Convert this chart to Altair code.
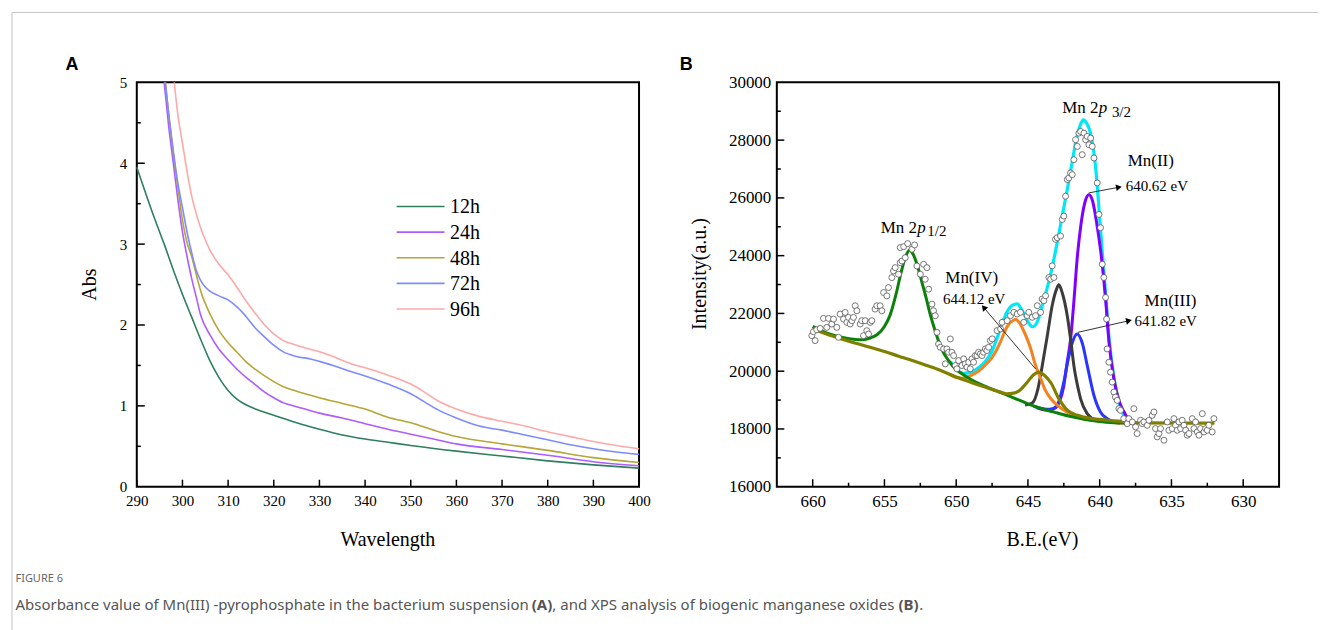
import altair as alt
import pandas as pd

SERIF = "Liberation Serif"
SANS = "Liberation Sans"

# ---------------- Panel A : absorbance spectra ----------------
SERIES = ["12h", "24h", "48h", "72h", "96h"]
COLORS_A = ["#2f7f5f", "#ac5cff", "#b5a637", "#7d8bff", "#ffa8a8"]

wl_12h = [290, 292, 294, 296, 298, 300, 302, 304, 306, 308, 310, 312, 314, 316, 318, 320, 325, 330, 335, 340, 345, 350, 360, 370, 380, 390, 400]
abs_12h = [3.95, 3.62, 3.30, 3.00, 2.68, 2.38, 2.10, 1.82, 1.56, 1.35, 1.19, 1.08, 1.01, 0.96, 0.92, 0.885, 0.79, 0.71, 0.64, 0.59, 0.55, 0.51, 0.44, 0.38, 0.32, 0.27, 0.23]

wl_24h = [296, 297, 298, 299, 300, 301, 302, 303, 304, 306, 308, 310, 312, 314, 316, 318, 320, 322, 325, 330, 335, 340, 345, 350, 355, 360, 370, 380, 390, 400]
abs_24h = [5.0, 4.45, 4.0, 3.55, 3.15, 2.85, 2.58, 2.35, 2.12, 1.88, 1.70, 1.57, 1.45, 1.35, 1.26, 1.17, 1.10, 1.04, 0.99, 0.91, 0.85, 0.78, 0.71, 0.65, 0.59, 0.53, 0.46, 0.39, 0.31, 0.26]

wl_48h = [296.3, 297, 298, 299, 300, 301, 302, 303, 304, 306, 308, 310, 312, 314, 316, 318, 320, 322, 325, 330, 335, 340, 345, 350, 355, 360, 370, 380, 390, 400]
abs_48h = [5.0, 4.6, 4.12, 3.7, 3.3, 3.02, 2.85, 2.63, 2.42, 2.14, 1.93, 1.78, 1.66, 1.54, 1.45, 1.37, 1.30, 1.24, 1.18, 1.10, 1.03, 0.96, 0.86, 0.79, 0.70, 0.62, 0.53, 0.45, 0.36, 0.30]

wl_72h = [296.2, 297, 298, 299, 300, 301, 302, 303, 304, 305, 306, 308, 310, 312, 314, 316, 318, 320, 322, 325, 328, 330, 333, 336, 340, 345, 350, 353, 356, 360, 365, 370, 375, 380, 385, 390, 395, 400]
abs_72h = [5.0, 4.6, 4.15, 3.75, 3.45, 3.15, 2.9, 2.68, 2.55, 2.47, 2.42, 2.36, 2.31, 2.22, 2.10, 1.96, 1.85, 1.75, 1.67, 1.61, 1.58, 1.55, 1.50, 1.44, 1.37, 1.27, 1.15, 1.05, 0.95, 0.85, 0.75, 0.70, 0.64, 0.58, 0.52, 0.47, 0.43, 0.40]

wl_96h = [298.2, 299, 300, 301, 302, 303, 304, 305, 306, 308, 310, 312, 314, 316, 318, 320, 322, 325, 328, 330, 333, 336, 340, 345, 350, 353, 356, 360, 365, 370, 375, 380, 385, 390, 395, 400]
abs_96h = [5.0, 4.6, 4.25, 3.9, 3.6, 3.38, 3.2, 3.05, 2.93, 2.75, 2.62, 2.46, 2.29, 2.14, 2.00, 1.89, 1.81, 1.75, 1.70, 1.67, 1.61, 1.54, 1.47, 1.38, 1.27, 1.17, 1.06, 0.96, 0.87, 0.81, 0.75, 0.68, 0.62, 0.56, 0.51, 0.47]

A_X_TICKS = [290, 300, 310, 320, 330, 340, 350, 360, 370, 380, 390, 400]
A_Y_LABELS = [0, 1, 2, 3, 4, 5]
A_Y_MAJOR = [1, 2, 3, 4]
A_Y_MINOR = [0.5, 1.5, 2.5, 3.5, 4.5]

# ---------------- Panel B : XPS Mn 2p ----------------
cyan_E = [650.4, 650.0, 649.5, 649.0, 648.5, 648.0, 647.5, 647.15, 646.8, 646.45, 646.1, 645.75, 645.4, 645.0, 644.7, 644.4, 643.9, 643.4, 642.96, 642.6, 642.26, 641.95, 641.68, 641.4, 641.15, 640.9, 640.64, 640.29, 640.0, 639.8, 639.59, 639.35, 639.0, 638.7, 638.3, 637.9, 637.5]
cyan_I = [20330, 20060, 19930, 19960, 20100, 20320, 20700, 21150, 21650, 22060, 22280, 22330, 22100, 21720, 21540, 21660, 22450, 23400, 24450, 25400, 26290, 27150, 27900, 28450, 28700, 28580, 28240, 27090, 25300, 24000, 22700, 21150, 19750, 19000, 18450, 18250, 18200]

green_E = [660.0, 659.5, 659.0, 658.0, 657.0, 656.5, 656.0, 655.5, 655.0, 654.6, 654.2, 653.8, 653.5, 653.25, 653.0, 652.7, 652.4, 652.1, 651.8, 651.5, 651.2, 650.9, 650.5, 650.2, 649.5, 649.0, 648.0, 647.0, 646.0, 645.0, 644.0, 643.0, 642.0, 641.0, 640.0, 639.0, 638.0, 637.5]
green_I = [21550, 21420, 21320, 21180, 21100, 21090, 21150, 21270, 21550, 21950, 22650, 23500, 24000, 24200, 24050, 23650, 23100, 22550, 21950, 21450, 21000, 20650, 20350, 20150, 19880, 19720, 19480, 19280, 19080, 18870, 18700, 18560, 18430, 18330, 18260, 18215, 18200, 18195]

olive_E = [660.0, 659.0, 658.0, 657.0, 656.0, 655.0, 654.0, 653.0, 652.0, 651.0, 650.0, 649.0, 648.0, 647.0, 646.5, 646.0, 645.5, 645.05, 644.6, 644.24, 643.9, 643.4, 642.85, 642.26, 641.6, 641.1, 640.0, 639.0, 638.0, 637.0, 632.0]
olive_I = [21480, 21280, 21120, 20970, 20830, 20680, 20520, 20360, 20190, 20010, 19800, 19620, 19450, 19290, 19220, 19240, 19370, 19620, 19880, 19970, 19880, 19600, 19050, 18650, 18480, 18410, 18330, 18280, 18240, 18210, 18200]

orange_E = [650.5, 650.0, 649.5, 649.0, 648.5, 648.0, 647.5, 647.15, 646.8, 646.6, 646.3, 646.0, 645.87, 645.6, 645.3, 645.0, 644.8, 644.5, 644.1, 643.8, 643.4, 642.9, 642.3, 641.7, 641.1, 640.0, 639.0, 638.0]
orange_I = [19900, 19780, 19760, 19850, 19980, 20200, 20480, 20770, 21150, 21400, 21650, 21760, 21800, 21680, 21400, 21050, 20770, 20250, 19735, 19350, 19045, 18800, 18590, 18450, 18355, 18270, 18220, 18200]

black_E = [645.2, 644.7, 644.3, 644.0, 643.66, 643.3, 643.0, 642.85, 642.6, 642.26, 642.0, 641.8, 641.5, 641.33, 640.87, 640.5, 640.1, 639.5]
black_I = [18830, 18900, 19400, 20200, 21200, 22300, 22850, 22990, 22700, 21920, 21000, 20200, 19400, 19045, 18530, 18350, 18280, 18250]

blue_E = [644.6, 644.0, 643.4, 642.96, 642.7, 642.5, 642.2, 641.9, 641.57, 641.2, 640.87, 640.4, 639.95, 639.47, 639.0, 638.6]
blue_I = [18780, 18700, 18680, 18830, 19200, 19620, 20400, 21000, 21290, 20950, 20200, 19160, 18590, 18355, 18240, 18210]

purple_E = [644.4, 643.8, 643.2, 642.8, 642.5, 642.3, 642.03, 641.8, 641.57, 641.3, 641.0, 640.75, 640.5, 640.2, 639.94, 639.59, 639.35, 639.0, 638.6, 638.3, 637.85, 637.5]
purple_I = [18740, 18660, 18700, 18950, 19500, 20200, 21100, 22400, 23900, 25100, 25900, 26110, 25900, 25100, 24200, 22500, 21000, 19700, 18900, 18590, 18240, 18200]

pts_E = [660.06, 659.95, 659.83, 659.72, 659.48, 659.25, 659.02, 658.90, 658.67, 658.55, 658.32, 658.20, 658.09, 657.85, 657.74, 657.62, 657.51, 657.39, 657.27, 657.16, 657.04, 656.92, 656.69, 656.58, 656.46, 656.34, 656.23, 656.11, 655.99, 655.88, 655.65, 655.53, 655.30, 655.18, 655.06, 654.83, 654.72, 654.48, 654.37, 654.25, 654.02, 653.90, 653.78, 653.55,
         653.90, 653.66, 653.38, 653.08, 652.90,
         652.74, 652.50, 652.27, 652.16, 652.04, 651.92, 651.69, 651.58, 651.46, 651.34, 651.23, 651.11, 650.88, 650.76, 650.65, 650.53, 650.41, 650.30, 650.18, 650.06, 649.95, 649.83, 649.60, 649.48, 649.37, 649.25, 649.13, 649.02, 648.90, 648.79, 648.67, 648.55, 648.44, 648.32, 648.20, 648.09, 647.97, 647.86, 647.74, 647.62,
         647.49, 647.15, 646.91, 646.80, 646.45, 646.22, 645.98, 645.75, 645.52, 645.29, 645.05, 644.94, 644.70, 644.47, 644.35, 644.12, 644.01, 643.89, 643.77, 643.54, 643.42, 643.31, 643.19, 643.08, 642.96, 642.73, 642.61, 642.50, 642.38, 642.26, 642.15, 642.03, 641.91, 641.80, 641.68, 641.56, 641.45, 641.33, 641.22, 641.10, 640.98, 640.87, 640.75, 640.63, 640.52, 640.40, 640.17, 640.05, 639.94, 639.82, 639.71,
         639.59, 639.52, 639.48, 639.36, 639.25, 639.13, 639.01, 638.90, 638.78, 638.66, 638.55, 638.32, 638.08, 637.97, 637.62, 637.73, 637.50, 637.39, 637.15, 637.04, 636.92, 636.69, 636.57, 636.34, 636.22, 636.11, 635.99, 635.87, 635.76, 635.52, 635.29, 635.18, 634.94, 634.83, 634.71, 634.60, 634.48, 634.36, 634.25, 634.13, 634.01, 633.90, 633.78, 633.55, 633.43, 633.32, 633.20, 633.08, 632.97, 632.85, 632.73, 632.62, 632.50, 632.39, 632.16, 632.04]
pts_I = [21230, 21368, 21058, 21437, 21483, 21828, 21518, 21828, 21633, 21805, 21518, 21173, 21977, 21805, 22035, 21690, 21863, 21633, 21748, 21863, 22265, 22092, 21633, 21748, 21230, 21748, 21402, 21288, 21690, 21748, 22150, 22265, 22265, 22092, 22724, 22609, 22897, 23241, 23471, 23586, 23356, 23758, 23816, 23931,
         24278, 24313, 24417, 24221, 24371,
         23643, 23356, 23701, 23184, 23586, 22839, 22322, 22092, 21920, 21345, 20943, 20828, 20771, 20254, 20771, 20656, 21116, 20656, 20541, 20196, 20082, 20369, 20196, 20426, 20254, 20139, 20311, 20082, 20426, 20311, 20541, 20541, 20656, 20599, 20541, 20656, 20771, 20714, 20828, 21058,
         21119, 21406, 21463, 21693, 21751, 21923, 22038, 21980, 22038, 21693, 21923, 22038, 21866, 21923, 22268, 22038, 22498, 22440, 22613, 23244, 23187, 23647, 23244, 24566, 24623, 24681, 25255, 25370, 26059, 26634, 26691, 26864, 26806, 27323, 28013, 27783, 28242, 28300, 27496, 28242, 28013, 28128, 27840, 28070, 27783, 27381, 26519, 25427, 24968, 23704, 23244,
         22552, 21805, 20771, 20311, 19967, 19622, 19277, 19105, 18990, 18703, 18645, 18358, 18186, 18358, 18703, 18243, 18071, 17841, 18301, 18186, 18243, 18128, 18301, 18473, 18588, 18013, 17726, 17841, 18013, 17611, 18243, 17956, 18013, 18358, 18128, 17956, 18243, 18013, 18301, 18128, 17956, 17784, 17841, 18358, 18013, 18243, 17898, 17784, 18013, 18530, 17898, 18013, 17956, 18128, 17898, 18358]

B_X_LABELS = [660, 655, 650, 645, 640, 635, 630]
B_X_MINOR = [657.5, 652.5, 647.5, 642.5, 637.5, 632.5]
B_Y_LABELS = [16000, 18000, 20000, 22000, 24000, 26000, 28000, 30000]
B_Y_MAJOR = [18000, 20000, 22000, 24000, 26000, 28000]
B_Y_MINOR = [17000, 19000, 21000, 23000, 25000, 27000, 29000]

# annotation texts (positions in eV / counts)
ann_text = ["Mn 2", "1/2", "Mn 2", "3/2", "Mn(II)", "640.62 eV", "Mn(IV)", "644.12 eV", "Mn(III)", "641.82 eV"]
ann_E = [655.26, 652.01, 642.61, 639.15, 638.05, 638.19, 650.76, 650.92, 636.87, 637.57]
ann_I = [24792, 24689, 28930, 28816, 27103, 26241, 23068, 22320, 22241, 21575]
ann_fs = [17, 15, 17, 15, 17, 15, 17, 15, 17, 15]
ital_text = ["p", "p"]
ital_E = [652.72, 640.07]
ital_I = [24792, 28930]

arrow_E1 = [640.76, 641.52, 644.47]
arrow_I1 = [26172, 21345, 20079]
arrow_E2 = [638.66, 637.96, 648.08]
arrow_I2 = [26369, 21748, 22207]
arrow_ang = [79, 77, 320]

W, H = 503, 405

# ---------------- Build panel A ----------------
rows = []
for s, ws, vs in zip(SERIES, [wl_12h, wl_24h, wl_48h, wl_72h, wl_96h],
                     [abs_12h, abs_24h, abs_48h, abs_72h, abs_96h]):
    for w, v in zip(ws, vs):
        rows.append({"series": s, "wl": w, "abs": v})
dfA = pd.DataFrame(rows)

sxA = alt.Scale(domain=[290, 400], nice=False, zero=False)
syA = alt.Scale(domain=[0, 5], nice=False, zero=False)
axXA = alt.Axis(values=A_X_TICKS, ticks=False, domain=False, grid=False, title=None,
                labelFont=SERIF, labelFontSize=15, labelColor="black", labelPadding=7,
                labelFlush=False, labelOverlap=False)
axYA = alt.Axis(values=A_Y_LABELS, ticks=False, domain=False, grid=False, title=None,
                labelFont=SERIF, labelFontSize=15, labelColor="black", labelPadding=10,
                labelFlush=False, labelOverlap=False)
XA = alt.X("wl:Q", scale=sxA, axis=axXA)
YA = alt.Y("abs:Q", scale=syA, axis=axYA)
colA = alt.Color("series:N", scale=alt.Scale(domain=SERIES, range=COLORS_A), legend=None)

linesA = alt.Chart(dfA).mark_line(strokeWidth=1.6, interpolate="monotone").encode(
    x=XA, y=YA, color=colA)

tickXA = alt.Chart(pd.DataFrame({"wl": A_X_TICKS})).mark_rule(color="black", strokeWidth=1.5).encode(
    x=XA, y=alt.value(H), y2=alt.value(H - 7))
tickYA = alt.Chart(pd.DataFrame({"abs": A_Y_MAJOR})).mark_rule(color="black", strokeWidth=1.5).encode(
    y=YA, x=alt.value(0), x2=alt.value(8))
tickYA2 = alt.Chart(pd.DataFrame({"abs": A_Y_MINOR})).mark_rule(color="black", strokeWidth=1.5).encode(
    y=YA, x=alt.value(0), x2=alt.value(4))

# legend placed inside the plot (in data units)
LEG_TOP, LEG_STEP, LEG_X0, LEG_X1, LEG_XT = 3.465, 0.317, 346.9, 357.4, 358.6
legdf = pd.DataFrame({"series": SERIES, "row": list(range(len(SERIES)))})
legLines = alt.Chart(legdf).mark_rule(strokeWidth=1.6).transform_calculate(
    abs=f"{LEG_TOP} - datum.row * {LEG_STEP}", wl=f"{LEG_X0}", wl2=f"{LEG_X1}").encode(
    x=XA, x2=alt.X2("wl2:Q"), y=YA, color=colA)
legText = alt.Chart(legdf).mark_text(font=SERIF, fontSize=20, align="left", baseline="middle",
                                     color="black", dy=1).transform_calculate(
    abs=f"{LEG_TOP} - datum.row * {LEG_STEP}", wl=f"{LEG_XT}").encode(
    x=XA, y=YA, text="series:N")

def label(txt, x, y, **kw):
    return alt.Chart(pd.DataFrame({"t": [txt]})).mark_text(**kw).encode(
        text="t:N", x=alt.value(x), y=alt.value(y))

titleXA = label("Wavelength", W / 2, 458, font=SERIF, fontSize=20, align="center", color="black")
titleYA = label("Abs", -47, H / 2, font=SERIF, fontSize=20, align="center", baseline="middle",
                angle=270, color="black")
letterA = label("A", -65, -17, font=SANS, fontSize=18, fontWeight="bold", align="center", color="black")

# outer frame lines and caption (pixel offsets from panel A origin)
borderTop = alt.Chart(pd.DataFrame({"k": [0]})).mark_rule(color="#c4c4c4", strokeWidth=1).encode(
    x=alt.value(-125), x2=alt.value(1183), y=alt.value(-70))
borderLeft = alt.Chart(pd.DataFrame({"k": [0]})).mark_rule(color="#c4c4c4", strokeWidth=1).encode(
    x=alt.value(-125), y=alt.value(-70), y2=alt.value(549))

CAP_FONT = "Noto Sans"
cap0 = label("FIGURE 6", -121.5, 497.5, font=CAP_FONT, fontSize=11, align="left", color="#666666")
cap1 = label("Absorbance value of Mn(III) -pyrophosphate in the bacterium suspension", -121.5, 523,
             font=CAP_FONT, fontSize=15, align="left", color="#555555")
cap2 = label("(A)", 395.5, 523, font=CAP_FONT, fontSize=15, fontWeight="bold", align="left", color="#555555")
cap3 = label(", and XPS analysis of biogenic manganese oxides", 416.2, 523,
             font=CAP_FONT, fontSize=15, align="left", color="#555555")
cap4 = label("(B)", 762.9, 523, font=CAP_FONT, fontSize=15, fontWeight="bold", align="left", color="#555555")
cap5 = label(".", 783.6, 523, font=CAP_FONT, fontSize=15, align="left", color="#555555")

panelA = alt.layer(borderTop, borderLeft, linesA, tickXA, tickYA, tickYA2, legLines, legText,
                   titleXA, titleYA, letterA, cap0, cap1, cap2, cap3, cap4, cap5).properties(width=W, height=H)

# ---------------- Build panel B ----------------
sxB = alt.Scale(domain=[627.5, 662.5], reverse=True, nice=False, zero=False)
syB = alt.Scale(domain=[16000, 30000], nice=False, zero=False)
axXB = alt.Axis(values=B_X_LABELS, ticks=False, domain=False, grid=False, title=None,
                labelFont=SERIF, labelFontSize=17, labelColor="black", labelPadding=7,
                labelFlush=False, labelOverlap=False, format="d")
axYB = alt.Axis(values=B_Y_LABELS, ticks=False, domain=False, grid=False, title=None,
                labelFont=SERIF, labelFontSize=17, labelColor="black", labelPadding=6,
                labelFlush=False, labelOverlap=False, format="d")
XB = alt.X("E:Q", scale=sxB, axis=axXB)
YB = alt.Y("I:Q", scale=syB, axis=axYB)

def comp(E, I, color, width=3.0):
    return alt.Chart(pd.DataFrame({"E": E, "I": I})).mark_line(
        color=color, strokeWidth=width, interpolate="monotone").encode(x=XB, y=YB, order="E:Q")

cyanL = comp(cyan_E, cyan_I, "#00e8f8", 3.2)
purpleL = comp(purple_E, purple_I, "#8000ff")
blueL = comp(blue_E, blue_I, "#2a35ff")
blackL = comp(black_E, black_I, "#3c3c3c")
orangeL = comp(orange_E, orange_I, "#f5821f")
greenL = comp(green_E, green_I, "#0a820a")
oliveL = comp(olive_E, olive_I, "#7f7f00", 3.2)

ptsB = alt.Chart(pd.DataFrame({"E": pts_E, "I": pts_I})).mark_point(
    shape="circle", filled=True, fill="white", stroke="#555555", strokeWidth=0.8, size=36,
    opacity=1).encode(x=XB, y=YB)

tickXB = alt.Chart(pd.DataFrame({"E": B_X_LABELS})).mark_rule(color="black", strokeWidth=1.5).encode(
    x=XB, y=alt.value(H), y2=alt.value(H - 7.5))
tickXB2 = alt.Chart(pd.DataFrame({"E": B_X_MINOR})).mark_rule(color="black", strokeWidth=1.5).encode(
    x=XB, y=alt.value(H), y2=alt.value(H - 4))
tickYB = alt.Chart(pd.DataFrame({"I": B_Y_MAJOR})).mark_rule(color="black", strokeWidth=1.5).encode(
    y=YB, x=alt.value(0), x2=alt.value(7.5))
tickYB2 = alt.Chart(pd.DataFrame({"I": B_Y_MINOR})).mark_rule(color="black", strokeWidth=1.5).encode(
    y=YB, x=alt.value(0), x2=alt.value(4))

annB = alt.Chart(pd.DataFrame({"t": ann_text, "E": ann_E, "I": ann_I, "fs": ann_fs})).mark_text(
    font=SERIF, align="left", baseline="alphabetic", color="black").encode(
    x=XB, y=YB, text="t:N", size=alt.Size("fs:Q", scale=None))
annI = alt.Chart(pd.DataFrame({"t": ital_text, "E": ital_E, "I": ital_I})).mark_text(
    font=SERIF, fontStyle="italic", fontSize=17, align="left", baseline="alphabetic", color="black").encode(
    x=XB, y=YB, text="t:N")

arrows = pd.DataFrame({"E": arrow_E1, "I": arrow_I1, "E2": arrow_E2, "I2": arrow_I2})
arrowLines = alt.Chart(arrows).mark_rule(color="black", strokeWidth=0.8).encode(
    x=XB, y=YB, x2=alt.X2("E2:Q"), y2=alt.Y2("I2:Q"))
arrowHeads = alt.Chart(pd.DataFrame({"E": arrow_E2, "I": arrow_I2, "ang": arrow_ang})).mark_point(
    shape="triangle-up", filled=True, color="black", size=45, opacity=1).encode(
    x=XB, y=YB, angle=alt.Angle("ang:Q", scale=None))

titleXB = label("B.E.(eV)", 266, 458, font=SERIF, fontSize=20, align="center", color="black")
titleYB = label("Intensity(a.u.)", -76.7, 192, font=SERIF, fontSize=20, align="center",
                baseline="middle", angle=270, color="black")
letterB = label("B", -90.7, -17, font=SANS, fontSize=18, fontWeight="bold", align="center", color="black")

panelB = alt.layer(cyanL, purpleL, blueL, blackL, orangeL, greenL, oliveL, ptsB,
                   tickXB, tickXB2, tickYB, tickYB2, arrowLines, arrowHeads, annB, annI,
                   titleXB, titleYB, letterB).properties(width=W, height=H)

chart = alt.hconcat(panelA, panelB, spacing=138, bounds="flush").properties(
    padding={"left": 10, "top": 10, "right": 0, "bottom": 0},
    background="white",
).configure_view(stroke="black", strokeWidth=2)

chart.save("out.html", embed_options={"renderer": "svg", "actions": False})
